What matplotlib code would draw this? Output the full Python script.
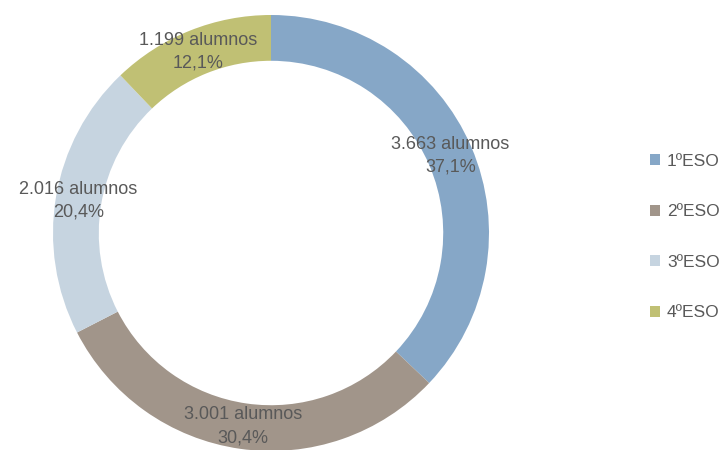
import numpy as np
import matplotlib
matplotlib.use("Agg")
import matplotlib.pyplot as plt

# Data
categories = ["1ºESO", "2ºESO", "3ºESO", "4ºESO"]
alumnos = [3663, 3001, 2016, 1199]
colors = ["#86A7C7", "#A1958A", "#C6D4E0", "#C0C074"]

text_color = "#595959"
plt.rcParams["font.family"] = ["Liberation Sans", "DejaVu Sans"]

fig = plt.figure(figsize=(7.28, 4.5), dpi=100)
# axes sized so the ring radius is ~218 px, centred at (271, 233) from top-left
ax = fig.add_axes([53 / 728, -1 / 450, 436 / 728, 436 / 450])

ring_width = 0.21
wedges, _ = ax.pie(alumnos, colors=colors, startangle=90, counterclock=False,
                   radius=1, wedgeprops=dict(width=ring_width, linewidth=0))
ax.set_xlim(-1, 1)
ax.set_ylim(-1, 1)
ax.set_aspect("equal")
ax.axis("off")

total = sum(alumnos)
label_r = 1 - ring_width / 2
for w, v in zip(wedges, alumnos):
    ang = np.deg2rad((w.theta1 + w.theta2) / 2)
    pct = f"{100 * v / total:.1f}".replace(".", ",")
    txt = f"{v:,}".replace(",", ".") + " alumnos\n" + pct + "%"
    ax.text(label_r * np.cos(ang), label_r * np.sin(ang), txt,
            ha="center", va="center", fontsize=13, color=text_color,
            linespacing=1.45, clip_on=False)

fig.legend(wedges, categories, loc="center left",
           bbox_to_anchor=(634 / 728, 213 / 450), frameon=False,
           fontsize=12.5, labelcolor=text_color, handlelength=0.6,
           handleheight=0.6, handletextpad=0.4, labelspacing=2.05)

fig.savefig("out.png", dpi=100)
